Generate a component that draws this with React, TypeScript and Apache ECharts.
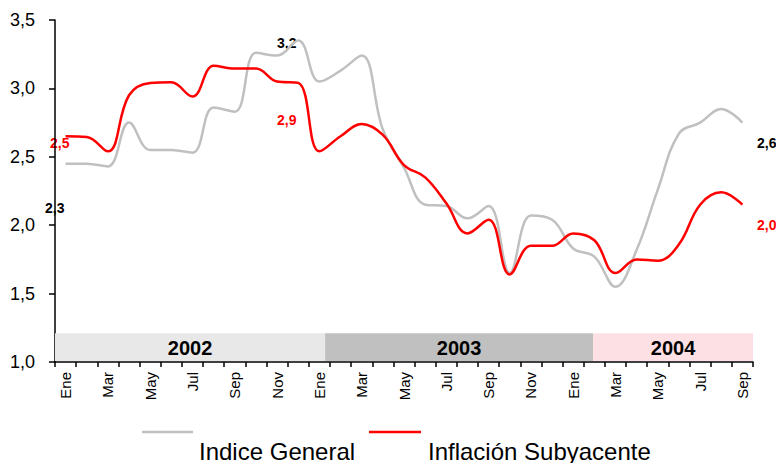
import React, { useEffect, useRef } from "react";
import * as echarts from "echarts";

const months = [
  "Ene", "Feb", "Mar", "Abr", "May", "Jun", "Jul", "Ago", "Sep", "Oct", "Nov", "Dic",
  "Ene", "Feb", "Mar", "Abr", "May", "Jun", "Jul", "Ago", "Sep", "Oct", "Nov", "Dic",
  "Ene", "Feb", "Mar", "Abr", "May", "Jun", "Jul", "Ago", "Sep",
];

const indiceGeneral = [
  2.45, 2.45, 2.43, 2.75, 2.55, 2.55, 2.53, 2.86, 2.83, 3.26, 3.24, 3.35,
  3.05, 3.13, 3.24, 2.7, 2.42, 2.15, 2.14, 2.05, 2.14, 1.65, 2.07, 2.04,
  1.83, 1.77, 1.55, 1.82, 2.26, 2.67, 2.75, 2.85, 2.75,
];

const subyacente = [
  2.65, 2.645, 2.54, 2.95, 3.04, 3.045, 2.94, 3.165, 3.145, 3.145, 3.05, 3.04,
  2.54, 2.65, 2.74, 2.66, 2.44, 2.35, 2.16, 1.94, 2.04, 1.64, 1.85, 1.85,
  1.94, 1.89, 1.65, 1.75, 1.74, 1.86, 2.15, 2.24, 2.15,
];

const years = ["2002", "2003", "2004"];
const yearStart = [0, 12.77, 25.44];
const yearEnd = [12.77, 25.44, 33];
const yearColors = ["#e8e8e8", "#c0c0c0", "#fde0e4"];

const seriesNames = ["Indice General", "Inflación Subyacente"];
const seriesColors = ["#c0c0c0", "#ff0000"];
const annotations = [
  { text: "2,5", color: "#ff0000", x: 50, y: 143 },
  { text: "2,3", color: "#000000", x: 45, y: 208 },
  { text: "3,2", color: "#000000", x: 277, y: 43 },
  { text: "2,9", color: "#ff0000", x: 277, y: 120 },
  { text: "2,6", color: "#000000", x: 757, y: 143 },
  { text: "2,0", color: "#ff0000", x: 757, y: 225 },
];

const FONT = "'Liberation Sans', Arial, Helvetica, sans-serif";

export default function App() {
  const ref = useRef<HTMLDivElement>(null);
  useEffect(() => {
    if (!ref.current) return;
    const chart = echarts.init(ref.current, null, { renderer: "svg" });
    const bandData = years.map((y, i) => [yearStart[i], yearEnd[i], i]);
    const legendItems = [
      { x1: 142, x2: 193, tx: 199 },
      { x1: 369, x2: 421, tx: 428 },
    ];
    chart.setOption({
      animation: false,
      backgroundColor: "#ffffff",
      textStyle: { fontFamily: FONT },
      grid: { left: 55, right: 23, top: 20, bottom: 101 },
      xAxis: [
        {
          type: "category",
          data: months,
          boundaryGap: true,
          axisLine: { lineStyle: { color: "#000", width: 1.5 } },
          axisTick: { show: true, interval: 0, length: 5, lineStyle: { color: "#000", width: 1.5 } },
          axisLabel: {
            interval: 1,
            rotate: 90,
            fontSize: 15,
            color: "#000",
            margin: 10,
            fontFamily: FONT,
          },
          splitLine: { show: false },
        },
        { type: "value", min: 0, max: 33, show: false },
      ],
      yAxis: {
        type: "value",
        min: 1,
        max: 3.5,
        interval: 0.5,
        axisLine: { show: true, lineStyle: { color: "#000", width: 1.5 } },
        axisTick: { show: true, length: 6, lineStyle: { color: "#000", width: 1.5 } },
        axisLabel: {
          fontSize: 18,
          color: "#000",
          margin: 20,
          fontFamily: FONT,
          formatter: (v: number) => v.toFixed(1).replace(".", ","),
        },
        splitLine: { show: false },
      },
      series: [
        {
          type: "custom",
          xAxisIndex: 1,
          yAxisIndex: 0,
          z: 1,
          silent: true,
          data: bandData,
          renderItem: (params: any, api: any) => {
            const idx = api.value(2);
            const p0 = api.coord([api.value(0), 1.0]);
            const p1 = api.coord([api.value(1), 1.21]);
            return {
              type: "group",
              children: [
                {
                  type: "rect",
                  shape: { x: p0[0], y: p1[1], width: p1[0] - p0[0], height: p0[1] - p1[1] - 1 },
                  style: { fill: yearColors[idx] },
                },
                {
                  type: "text",
                  style: {
                    text: years[idx],
                    x: (p0[0] + p1[0]) / 2,
                    y: (p0[1] + p1[1]) / 2,
                    align: "center",
                    verticalAlign: "middle",
                    fontFamily: FONT,
                    fontWeight: "bold",
                    fontSize: 20,
                    fill: "#000",
                  },
                },
              ],
            };
          },
        },
        {
          name: seriesNames[0],
          type: "line",
          data: indiceGeneral,
          smooth: 0.4,
          symbol: "none",
          z: 3,
          lineStyle: { color: seriesColors[0], width: 2.5 },
        },
        {
          name: seriesNames[1],
          type: "line",
          data: subyacente,
          smooth: 0.4,
          symbol: "none",
          z: 4,
          lineStyle: { color: seriesColors[1], width: 2.5 },
        },
      ],
      graphic: [
        ...annotations.map((a) => ({
          type: "text",
          x: a.x,
          y: a.y,
          style: {
            text: a.text,
            fill: a.color,
            fontFamily: FONT,
            fontWeight: "bold",
            fontSize: 14,
            verticalAlign: "middle",
            align: "left",
          },
        })),
        ...legendItems.flatMap((l, i) => [
          {
            type: "line",
            shape: { x1: l.x1, y1: 432, x2: l.x2, y2: 432 },
            style: { stroke: seriesColors[i], lineWidth: 2.5 },
          },
          {
            type: "text",
            x: l.tx,
            y: 451,
            style: {
              text: seriesNames[i],
              fill: "#000",
              fontFamily: FONT,
              fontSize: 24,
              verticalAlign: "middle",
            },
          },
        ]),
      ],
    });
    return () => chart.dispose();
  }, []);
  return (
    <div
      ref={ref}
      style={{ position: "fixed", left: 0, top: 0, width: 776, height: 463 }}
    />
  );
}
